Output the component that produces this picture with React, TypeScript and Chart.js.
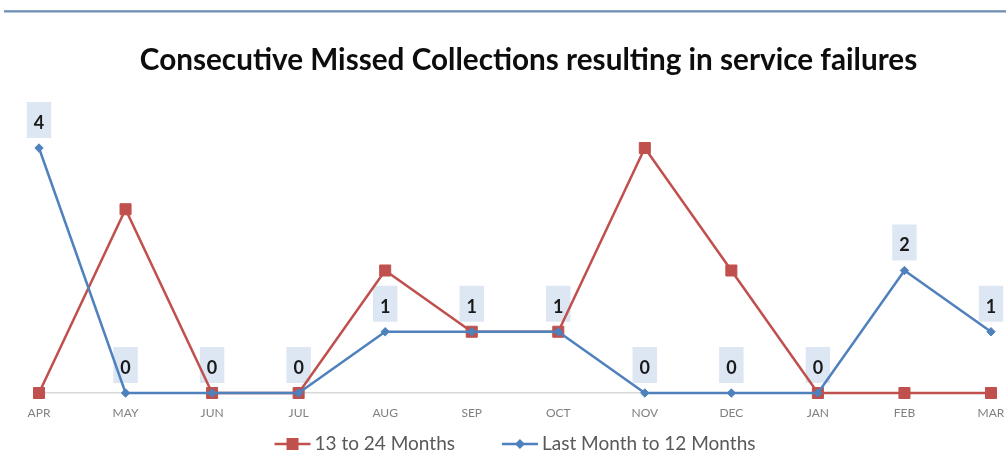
import React, { useEffect, useRef } from "react";
import { Chart, registerables } from "chart.js";

Chart.register(...registerables);

const months = ["APR", "MAY", "JUN", "JUL", "AUG", "SEP", "OCT", "NOV", "DEC", "JAN", "FEB", "MAR"];
const series13to24 = [0, 3, 0, 0, 2, 1, 1, 4, 2, 0, 0, 0];
const seriesLast12 = [4, 0, 0, 0, 1, 1, 1, 0, 0, 0, 2, 1];
const seriesNames = ["13 to 24 Months", "Last Month to 12 Months"];
const titleText = "Consecutive Missed Collections resulting in service failures";

const RED = "#c0504d";
const BLUE = "#4f81bd";
const FONT = "Lato, 'Open Sans', sans-serif";

const decorPlugin = {
  id: "decor",
  beforeDraw(chart: any) {
    const ctx = chart.ctx;
    ctx.save();
    ctx.fillStyle = "#ffffff";
    ctx.fillRect(0, 0, chart.width, chart.height);
    ctx.fillStyle = "#8aa3c2";
    ctx.fillRect(4, 10, chart.width - 4, 1);
    ctx.fillStyle = "#6f8fb3";
    ctx.fillRect(4, 11, chart.width - 4, 1.5);
    // title
    ctx.fillStyle = "#0d0d0d";
    ctx.font = `bold 29.7px ${FONT}`;
    ctx.textAlign = "center";
    ctx.textBaseline = "alphabetic";
    ctx.fillText(titleText, 528.5, 70);
    ctx.restore();
  },
};

const labelPlugin = {
  id: "valueLabels",
  beforeDatasetsDraw(chart: any) {
    const ctx = chart.ctx;
    const dsIndex = 1;
    const meta = chart.getDatasetMeta(dsIndex);
    const data = chart.data.datasets[dsIndex].data as number[];
    ctx.save();
    ctx.font = `bold 18px ${FONT}`;
    ctx.textAlign = "center";
    ctx.textBaseline = "middle";
    meta.data.forEach((pt: any, i: number) => {
      const txt = String(data[i]);
      const w = ctx.measureText(txt).width + 14;
      const h = 36;
      const bottom = pt.y - 10;
      ctx.fillStyle = "#dde7f3";
      ctx.fillRect(pt.x - w / 2, bottom - h, w, h);
      ctx.fillStyle = "#1a1a1a";
      ctx.fillText(txt, pt.x, bottom - h / 2 + 3);
    });
    ctx.restore();
  },
};

const legendPlugin = {
  id: "customLegend",
  afterDraw(chart: any) {
    const ctx = chart.ctx;
    ctx.save();
    ctx.font = `19px ${FONT}`;
    const markerW = 36;
    const gapText = 4;
    const gapItems = 47;
    const items = chart.data.datasets.map((ds: any) => ({
      label: ds.label,
      color: ds.borderColor,
      style: ds.pointStyle,
      tw: ctx.measureText(ds.label).width,
    }));
    const total = items.reduce((s: number, it: any) => s + markerW + gapText + it.tw, 0) + gapItems * (items.length - 1);
    const cx = (chart.chartArea.left + chart.chartArea.right) / 2;
    let x = cx - total / 2;
    const y = chart.height - 25;
    items.forEach((it: any) => {
      ctx.strokeStyle = it.color;
      ctx.lineWidth = 2.5;
      ctx.beginPath();
      ctx.moveTo(x, y);
      ctx.lineTo(x + markerW, y);
      ctx.stroke();
      ctx.fillStyle = it.color;
      const mx = x + markerW / 2;
      if (it.style === "rect") {
        ctx.fillRect(mx - 6, y - 6, 12, 12);
      } else {
        ctx.beginPath();
        ctx.moveTo(mx - 5, y);
        ctx.lineTo(mx, y - 5);
        ctx.lineTo(mx + 5, y);
        ctx.lineTo(mx, y + 5);
        ctx.closePath();
        ctx.fill();
      }
      ctx.fillStyle = "#595959";
      ctx.textAlign = "left";
      ctx.textBaseline = "middle";
      ctx.fillText(it.label, x + markerW + gapText, y);
      x += markerW + gapText + it.tw + gapItems;
    });
    ctx.restore();
  },
};

export default function App() {
  const ref = useRef<HTMLCanvasElement>(null);
  useEffect(() => {
    const canvas = ref.current!;
    const chart = new Chart(canvas, {
      type: "line",
      data: {
        labels: months,
        datasets: [
          {
            label: seriesNames[0],
            data: series13to24,
            borderColor: RED,
            backgroundColor: RED,
            borderWidth: 2.5,
            pointStyle: "rect",
            pointRadius: 7.8,
            pointBorderWidth: 1,
            pointBackgroundColor: RED,
            pointBorderColor: RED,
            tension: 0,
            clip: false,
            order: 2,
          } as any,
          {
            label: seriesNames[1],
            data: seriesLast12,
            borderColor: BLUE,
            backgroundColor: BLUE,
            borderWidth: 2.5,
            pointStyle: "rectRot",
            pointRadius: 4.2,
            pointBorderWidth: 1,
            pointBackgroundColor: BLUE,
            pointBorderColor: BLUE,
            tension: 0,
            clip: false,
            order: 1,
          } as any,
        ],
      },
      options: {
        responsive: false,
        animation: false,
        devicePixelRatio: 1,
        events: [],
        layout: { padding: { top: 148, left: 39, right: 15, bottom: 46 } },
        plugins: {
          legend: { display: false },
          title: { display: false },
          tooltip: { enabled: false },
        },
        scales: {
          x: {
            grid: { display: false, drawTicks: false },
            border: { display: true, color: "#d9d9d9", width: 1.5 },
            ticks: {
              color: "#808080",
              font: { family: FONT, size: 12 },
              padding: 13,
              autoSkip: false,
              maxRotation: 0,
            },
            afterFit: (s: any) => {
              s.height = 30;
              s.paddingLeft = 0;
              s.paddingRight = 0;
            },
          },
          y: { display: false, min: 0, max: 4 },
        },
      },
      plugins: [decorPlugin, labelPlugin, legendPlugin],
    });
    return () => chart.destroy();
  }, []);
  return (
    <div style={{ position: "fixed", left: 0, top: 0, width: 1006, height: 469, background: "#fff" }}>
      <canvas ref={ref} width={1006} height={469} style={{ display: "block", width: 1006, height: 469 }} />
    </div>
  );
}
